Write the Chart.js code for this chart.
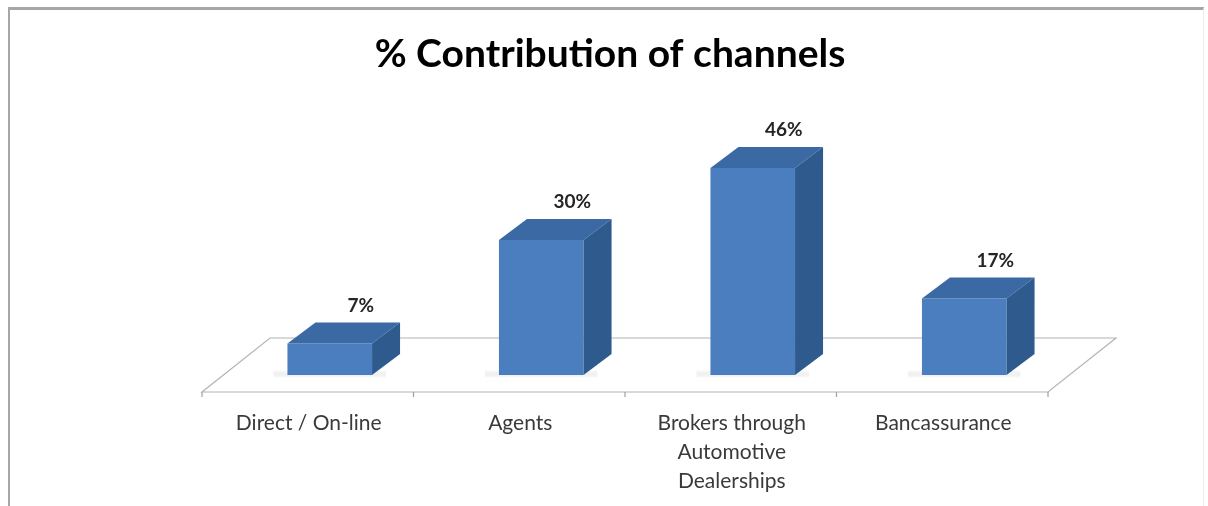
<!DOCTYPE html>
<html>
<head>
<meta charset="utf-8">
<script src="https://cdn.jsdelivr.net/npm/chart.js@4"></script>
<style>
  html, body { margin: 0; padding: 0; background: #ffffff; }
  #wrap { position: relative; width: 1208px; height: 506px; overflow: hidden; }
  #frame { position: absolute; left: 8px; top: 7px; width: 1193px; height: 520px;
           border-top: 3px solid #a6a6a6; border-left: 2px solid #a6a6a6; border-right: 1px solid #ececec; pointer-events: none; }
  canvas { position: absolute; left: 0; top: 0; }
</style>
</head>
<body>
<div id="wrap">
  <canvas id="c" width="1208" height="506"></canvas>
  <div id="frame"></div>
</div>
<script>
const titleText = '% Contribution of channels';
const categories = ['Direct / On-line', 'Agents', ['Brokers through', 'Automotive', 'Dealerships'], 'Bancassurance'];
const values = [7, 30, 46, 17];
const valueLabels = ['7%', '30%', '46%', '17%'];

const FRONT = '#4A7EBF', TOP = '#3B69A4', SIDE = '#2E5A8E';
const DEPTH_X = 28, DEPTH_Y = 21;          // bar depth
const FLOOR_FRONT = 17, FLOOR_BACK = 37;   // floor extents relative to zero line
const FLOOR_SHIFT = 22;                    // horizontal shift of floor front vs bars

const threeD = {
  id: 'threeD',
  beforeDatasetsDraw(chart) {
    const ctx = chart.ctx;
    const xs = chart.scales.x, ys = chart.scales.y;
    const y0 = ys.getPixelForValue(0);
    const step = xs.getPixelForValue(1) - xs.getPixelForValue(0);
    const n = categories.length;
    const fl = xs.getPixelForValue(0) - step / 2 - FLOOR_SHIFT;
    const fr = xs.getPixelForValue(n - 1) + step / 2 - FLOOR_SHIFT;
    const fy = y0 + FLOOR_FRONT, by = y0 - FLOOR_BACK;
    const sx = (FLOOR_FRONT + FLOOR_BACK) * 68 / 54;
    ctx.save();
    ctx.strokeStyle = '#b4b4b4';
    ctx.lineWidth = 1.2;
    ctx.beginPath();
    ctx.moveTo(fl, fy); ctx.lineTo(fr, fy); ctx.lineTo(fr + sx, by); ctx.lineTo(fl + sx, by); ctx.closePath();
    ctx.fillStyle = '#ffffff';
    ctx.fill();
    ctx.stroke();
    ctx.strokeStyle = '#a0a0a0';
    ctx.beginPath();
    for (let i = 0; i <= n; i++) {
      const tx = fl + i * step;
      ctx.moveTo(tx, fy); ctx.lineTo(tx, fy + 5);
    }
    ctx.stroke();
    // soft shadows at bar bases
    const meta = chart.getDatasetMeta(0);
    meta.data.forEach(bar => {
      const w = bar.width;
      const g = ctx.createLinearGradient(0, bar.base - 5, 0, bar.base + 3);
      g.addColorStop(0, 'rgba(0,0,0,0)');
      g.addColorStop(0.5, 'rgba(140,140,140,0.12)');
      g.addColorStop(1, 'rgba(0,0,0,0)');
      ctx.fillStyle = g;
      ctx.fillRect(bar.x - w / 2 - 14, bar.base - 5, w + DEPTH_X, 8);
    });
    ctx.restore();
  },
  afterDatasetsDraw(chart) {
    const ctx = chart.ctx;
    const meta = chart.getDatasetMeta(0);
    ctx.save();
    meta.data.forEach((bar, i) => {
      const l = bar.x - bar.width / 2, r = bar.x + bar.width / 2;
      const t = bar.y, b = bar.base;
      // top face
      ctx.fillStyle = TOP;
      ctx.beginPath();
      ctx.moveTo(l, t); ctx.lineTo(l + DEPTH_X, t - DEPTH_Y); ctx.lineTo(r + DEPTH_X, t - DEPTH_Y); ctx.lineTo(r, t); ctx.closePath();
      ctx.fill();
      // side face
      ctx.fillStyle = SIDE;
      ctx.beginPath();
      ctx.moveTo(r, t); ctx.lineTo(r + DEPTH_X, t - DEPTH_Y); ctx.lineTo(r + DEPTH_X, b - DEPTH_Y); ctx.lineTo(r, b); ctx.closePath();
      ctx.fill();
      // value label
      ctx.fillStyle = '#262626';
      ctx.font = 'bold 19px Lato';
      ctx.textAlign = 'center';
      ctx.textBaseline = 'middle';
      ctx.fillText(valueLabels[i], bar.x + DEPTH_X + 3, t - DEPTH_Y - 17);
    });
    ctx.restore();
  }
};

new Chart(document.getElementById('c'), {
  type: 'bar',
  data: {
    labels: categories,
    datasets: [{
      data: values,
      backgroundColor: FRONT,
      borderWidth: 0,
      barPercentage: 0.40,
      categoryPercentage: 1.0,
      yAxisID: 'y'
    }]
  },
  options: {
    responsive: false,
    animation: false,
    events: [],
    layout: { padding: { left: 12, right: 0, top: 0, bottom: 0 } },
    plugins: {
      legend: { display: false },
      tooltip: { enabled: false },
      title: {
        display: true,
        text: titleText,
        color: '#000000',
        font: { family: 'Lato', size: 39, weight: 'bold', lineHeight: 1.2 },
        padding: { top: 31, bottom: 72.2 }
      }
    },
    scales: {
      y: {
        position: 'left', min: 0, max: 50,
        grid: { display: false, drawTicks: false },
        border: { display: false },
        ticks: { display: false },
        afterFit(scale) { scale.width = 212; }
      },
      y2: {
        position: 'right', min: 0, max: 50,
        grid: { display: false, drawTicks: false },
        border: { display: false },
        ticks: { display: false },
        afterFit(scale) { scale.width = 138; }
      },
      x: {
        grid: { display: false, drawTicks: false },
        border: { display: false },
        ticks: {
          color: '#3a3a3a',
          font: { family: 'Lato', size: 21, lineHeight: '29px' },
          padding: 34,
          labelOffset: -21,
          maxRotation: 0,
          autoSkip: false
        },
        afterFit(scale) { scale.height = 131; }
      }
    }
  },
  plugins: [threeD]
});
</script>
</body>
</html>
